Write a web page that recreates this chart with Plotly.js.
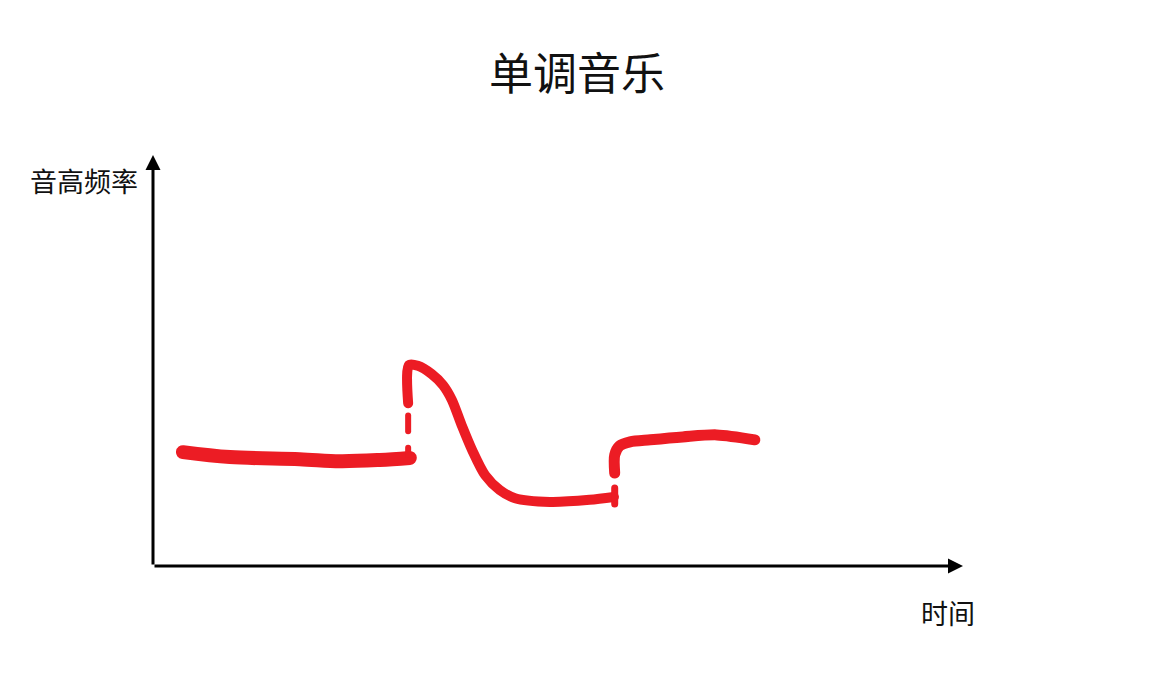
<!DOCTYPE html>
<html><head><meta charset="utf-8">
<script src="https://cdn.plot.ly/plotly-3.0.1.min.js"></script>
<style>html,body{margin:0;padding:0;background:#fff}#c{width:1164px;height:678px}
.scatterlayer .js-line{stroke-linecap:round;stroke-linejoin:round}</style>
</head><body><div id="c"></div>
<script>
// Hand-drawn pitch curve, time 0-100, frequency 0-100
const flatX = [3.7, 9.5, 18.1, 23.1, 28.0, 31.7];
const flatY = [27.7, 26.5, 26.0, 25.5, 25.8, 26.3];

const jump1X = [31.5, 31.5, null, 31.5, 31.5];
const jump1Y = [27.0, 28.8, null, 32.8, 36.6];

const peakX = [31.5, 31.6, 32.7, 34.4, 35.8, 36.9, 38.1, 39.4, 41.0, 42.8, 44.7, 49.0, 53.9, 56.9];
const peakY = [39.6, 48.9, 48.7, 46.7, 44.0, 40.4, 34.3, 28.2, 22.1, 18.5, 16.5, 15.6, 16.1, 16.8];

const jump2X = [57.0, 57.0];
const jump2Y = [15.1, 19.0];

const riseX = [57.0, 57.0, 57.6, 58.9, 61.4, 65.4, 69.6, 74.3];
const riseY = [22.6, 27.0, 29.2, 30.2, 30.7, 31.4, 31.9, 30.7];

const titleText = '单调音乐';
const yLabel = '音高频率';
const xLabel = '时间';

const red = '#ec1c24';
const font = '"Noto Sans CJK SC", "Noto Sans", sans-serif';

const traces = [
  {x: flatX, y: flatY, mode: 'lines', line: {color: red, width: 14, shape: 'spline'}},
  {x: jump1X, y: jump1Y, mode: 'lines', line: {color: red, width: 6}, connectgaps: false},
  {x: peakX, y: peakY, mode: 'lines', line: {color: red, width: 10, shape: 'spline', smoothing: 0.8}},
  {x: jump2X, y: jump2Y, mode: 'lines', line: {color: red, width: 7}},
  {x: riseX, y: riseY, mode: 'lines', line: {color: red, width: 11, shape: 'spline', smoothing: 0.8}}
];

const layout = {
  width: 1164, height: 678,
  margin: {l: 153, r: 201, t: 155, b: 112},
  paper_bgcolor: '#fff', plot_bgcolor: '#fff',
  showlegend: false,
  title: {text: titleText, font: {family: font, size: 44, color: '#111'}, x: 577/1164, xref: 'container', xanchor: 'center', y: 1 - 75/678, yref: 'container', yanchor: 'middle'},
  xaxis: {range: [0, 100], showgrid: false, zeroline: false, showticklabels: false, ticks: '', showline: false},
  yaxis: {range: [0, 100], showgrid: false, zeroline: false, showticklabels: false, ticks: '', showline: false},
  annotations: [
    {x: 100, y: 0, ax: 0, ay: 0, xref: 'x', yref: 'y', axref: 'x', ayref: 'y', text: '', showarrow: true, arrowhead: 2, arrowsize: 1, arrowwidth: 3, arrowcolor: '#000'},
    {x: 0, y: 100, ax: 0, ay: 0, xref: 'x', yref: 'y', axref: 'x', ayref: 'y', text: '', showarrow: true, arrowhead: 2, arrowsize: 1, arrowwidth: 3, arrowcolor: '#000'},
    {x: (84-153)/810, y: (566-180)/411, xref: 'paper', yref: 'paper', text: yLabel, showarrow: false, xanchor: 'center', yanchor: 'middle', font: {family: font, size: 27, color: '#111'}},
    {x: (948-153)/810, y: (566-612)/411, xref: 'paper', yref: 'paper', text: xLabel, showarrow: false, xanchor: 'center', yanchor: 'middle', font: {family: font, size: 27, color: '#111'}}
  ]
};

Plotly.newPlot('c', traces, layout, {displayModeBar: false, staticPlot: true});
</script></body></html>
